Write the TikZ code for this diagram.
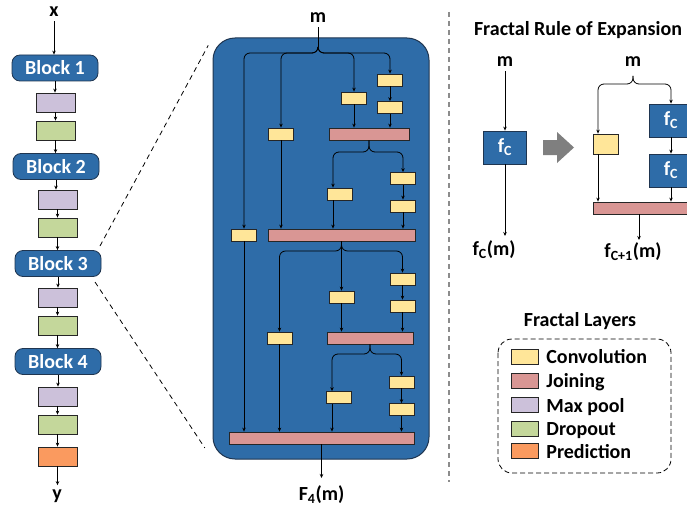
\documentclass[tikz,border=0pt]{standalone}
\usepackage{fontspec}
\setmainfont{Carlito}
\usetikzlibrary{arrows.meta}

\definecolor{blockblue}{HTML}{2E6CA8}
\definecolor{blockline}{HTML}{1F3550}
\definecolor{convcol}{HTML}{FFE699}
\definecolor{joincol}{HTML}{D99694}
\definecolor{poolcol}{HTML}{CCC1DA}
\definecolor{dropcol}{HTML}{C4D79B}
\definecolor{predcol}{HTML}{FA9A5F}
\definecolor{sepgray}{HTML}{8C8C8C}
\definecolor{arrowgray}{HTML}{7F7F7F}

\begin{document}
\begin{tikzpicture}
  [x=1pt, y=-1pt, font=\bfseries\fontsize{20}{24}\selectfont,
   >={Stealth[length=4pt,width=3.5pt]}, line width=0.8pt,
   lbl/.style={inner sep=4pt},
   layerbox/.style={draw=black!85, line width=0.8pt, inner sep=0pt},
   block/.style={layerbox, draw=blockline, fill=blockblue, text=white, rounded corners=8pt,
                 minimum width=86, minimum height=26},
   poolbox/.style={layerbox, fill=poolcol, minimum width=39, minimum height=19},
   dropbox/.style={layerbox, fill=dropcol, minimum width=39, minimum height=19},
   predbox/.style={layerbox, fill=predcol, minimum width=39, minimum height=19},
   convbox/.style={layerbox, fill=convcol, minimum width=25, minimum height=12},
   joinbox/.style={layerbox, fill=joincol, minimum height=12},
   fbox/.style={layerbox, draw=blockline, fill=blockblue, text=white,
                minimum width=43, minimum height=33},
   keybox/.style={minimum width=27, minimum height=15},
   panel/.style={draw=blockline, fill=blockblue, line width=1pt, rounded corners=22pt,
                 minimum width=216, minimum height=421}]
  \useasboundingbox (0,0) rectangle (687,508);

  % network
  \node[lbl] (x) at (54,12) {x};
  \node[block] (b1) at (55,68) {Block 1};
  \node[poolbox] (p1) at (55.5,102.5) {};
  \node[dropbox] (d1) at (55.5,130.5) {};
  \node[block] (b2) at (56,166.5) {Block 2};
  \node[poolbox] (p2) at (57.5,199.5) {};
  \node[dropbox] (d2) at (57.5,227.5) {};
  \node[block] (b3) at (58,263.5) {Block 3};
  \node[poolbox] (p3) at (57.5,297.5) {};
  \node[dropbox] (d3) at (57.5,325.5) {};
  \node[block] (b4) at (58,361.5) {Block 4};
  \node[poolbox] (p4) at (57.5,396.5) {};
  \node[dropbox] (d4) at (57.5,424.5) {};
  \node[predbox] (pr) at (57.5,456.5) {};
  \node[lbl] (y) at (57,496) {y};

  \foreach \from/\to in {x/b1,b1/p1,p1/d1,d1/b2,b2/p2,p2/d2,d2/b3,b3/p3,p3/d3,d3/b4,b4/p4,p4/d4,d4/pr,pr/y}
  \draw[->] (\from.south) -- (\from.south |- \to.north);

  % zoom lines
  \coordinate (zt) at (100,246);
  \coordinate (zb) at (95,282);
  \node[panel] (panel) at (321,248.5) {};
  \draw[dash pattern=on 5pt off 4pt, shorten >=9pt] (zt) -- (panel.north west);
  \draw[dash pattern=on 5pt off 4pt, shorten >=14pt] (zb) -- (panel.south west);

  % block 3 expanded
  \node[lbl] (m) at (318,18) {m};
  \coordinate (t0) at (318,47);
  \node[convbox] (cvA) at (244,235) {};
  \node[convbox] (cvB) at (281,134) {};
  \node[convbox] (cvC) at (354,98) {};
  \node[convbox] (cvD) at (390,80) {};
  \node[convbox] (cvE) at (390,107.5) {};
  \node[joinbox, minimum width=80] (j1) at (369,134) {};
  \coordinate (kF) at (333,152);
  \node[convbox] (cvF) at (340,194) {};
  \node[convbox] (cvG) at (403,178.5) {};
  \node[convbox] (cvH) at (403,206) {};
  \node[joinbox, minimum width=147] (j2) at (341.5,235) {};
  \node[convbox] (cvI) at (279.5,338) {};
  \node[convbox] (cvJ) at (341.5,297) {};
  \node[convbox] (cvK) at (402.5,279) {};
  \node[convbox] (cvL) at (402.5,306) {};
  \node[joinbox, minimum width=86] (j3) at (370,338) {};
  \coordinate (kM) at (332,354);
  \node[convbox] (cvM) at (339,397.5) {};
  \node[convbox] (cvN) at (401.5,382) {};
  \node[convbox] (cvO) at (401.5,409.5) {};
  \node[joinbox, minimum width=185] (j4) at (321.5,438) {};
  \coordinate (o4) at (321.5,478);
  \node[lbl] (F4) at (321.5,495) {F\textsubscript{4}(m)};

  \draw (m) -- (t0);
  \foreach \to/\bx in {cvA/244,cvB/281,cvC/354,cvD/390}
  \draw[->, rounded corners=6pt] (t0) |- (\bx,53) -- (\to);
  \draw[->, rounded corners=6pt] (j1.south) |- (kF) -- (kF |- cvF.north);
  \draw[->, rounded corners=6pt] (j1.south) |- (403,152) -- (cvG);
  \draw[->, rounded corners=6pt] (j2.south) |- (279.5,251) -- (cvI);
  \draw[->, rounded corners=6pt] (j2.south) |- (402.5,251) -- (cvK);
  \draw[->, rounded corners=6pt] (j3.south) |- (kM) -- (kM |- cvM.north);
  \draw[->, rounded corners=6pt] (j3.south) |- (401.5,354) -- (cvN);
  \foreach \from/\to in {cvA/j4,cvB/j2,cvC/j1,cvD/cvE,cvE/j1,cvG/cvH,cvH/j2,j2/cvJ,cvJ/j3,cvI/j4,cvK/cvL,cvL/j3,cvN/cvO,cvO/j4}
  \draw[->] (\from.south) -- (\from.south |- \to.north);
  \draw[->] (kF |- cvF.south) -- (kF |- j2.north);
  \draw[->] (kM |- cvM.south) -- (kM |- j4.north);
  \draw[->] (j4) -- (o4);

  % separator
  \draw[sepgray, line width=1.2pt, dash pattern=on 5pt off 4pt] (449,12) -- (449,482);

  % expansion rule
  \node (rule) at (578,30) {Fractal Rule of Expansion};
  \node[lbl] (mA) at (505,62) {m};
  \node[fbox] (fA) at (505,147.5) {f\textsubscript{C}};
  \coordinate (eA) at (505,236);
  \node[lbl] (outA) at (494,250) {f\textsubscript{C}(m)};
  \draw[->] (mA) -- (fA);
  \draw[->] (fA) -- (eA);
  \fill[arrowgray] (543,140) -- (557,140) -- (557,132) -- (574,147.5) -- (557,163)
    -- (557,155) -- (543,155) -- cycle;

  \node[lbl] (mB) at (633,62) {m};
  \coordinate (tB) at (633,76);
  \coordinate (kR) at (598,84);
  \node[convbox, minimum height=20] (cvR) at (605.5,144) {};
  \node[fbox] (fB1) at (671,120.5) {f\textsubscript{C}};
  \node[fbox] (fB2) at (671,170.5) {f\textsubscript{C}};
  \node[joinbox, minimum width=108] (jR) at (647,208) {};
  \coordinate (eB) at (639,240);
  \node[lbl] (outB) at (633,252) {f\textsubscript{C+1}(m)};
  \draw[->, rounded corners=6pt] (tB) |- (kR) -- (kR |- cvR.north);
  \draw[->, rounded corners=6pt] (tB) |- (671,84) -- (fB1);
  \draw[->] (kR |- cvR.south) -- (kR |- jR.north);
  \draw[->] (fB1) -- (fB2);
  \draw[->] (fB2) -- (fB2 |- jR.north);
  \draw[->] (eB |- jR.south) -- (eB);

  % legend
  \node (layers) at (580,321) {Fractal Layers};
  \draw[dash pattern=on 5pt off 3pt, rounded corners=14pt] (498,339) rectangle (671,473);
  \foreach \sty/\txt/\yy/\yb/\nm in {convbox/Convolution/356.5/363/lc,joinbox/Joining/381/387/lj,
      poolbox/Max pool/404.5/412/lp,dropbox/Dropout/428.5/435/ld,predbox/Prediction/450.5/458/lr}
  {
    \node[\sty, keybox] (\nm) at (524.5,\yy) {};
    \node[anchor=base west, inner sep=0pt] (\nm t) at (546,\yb) {\txt};
  }
\end{tikzpicture}
\end{document}
